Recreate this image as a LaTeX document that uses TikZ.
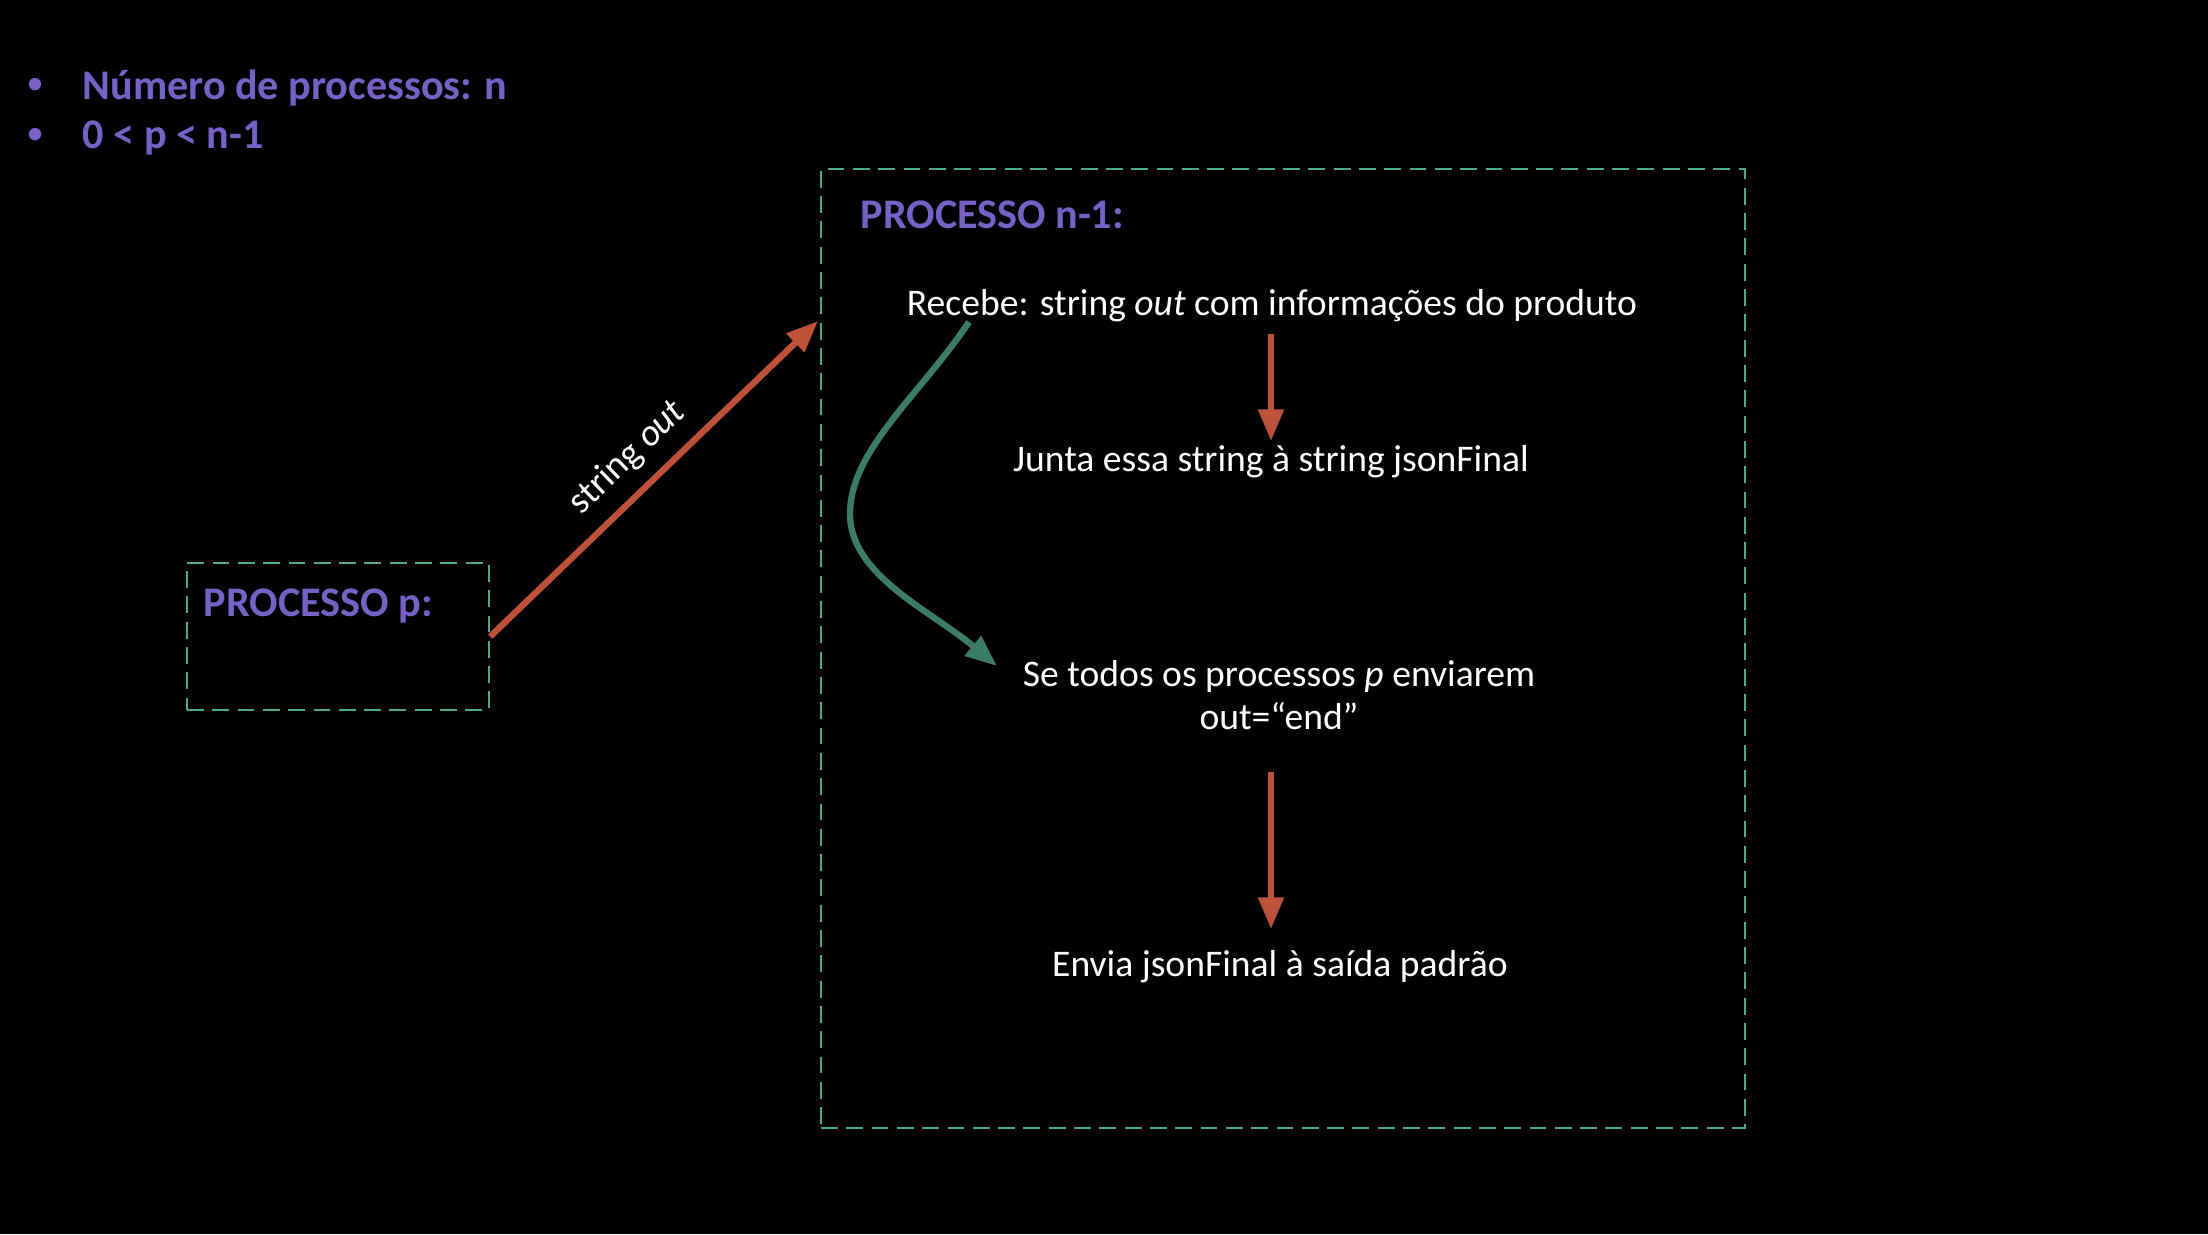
\documentclass[tikz,border=0pt]{standalone}
\usepackage{fontspec}
\setmainfont{Carlito}
\usetikzlibrary{arrows.meta}
\definecolor{purp}{RGB}{118,98,196}
\definecolor{redarr}{RGB}{190,82,56}
\definecolor{greenarr}{RGB}{58,125,100}
\definecolor{boxgreen}{RGB}{78,168,138}
\tikzset{
  procbox/.style={draw=boxgreen, line width=0.7pt, dash pattern=on 4.8pt off 2.4pt, inner sep=0pt},
  redarrow/.style={draw=redarr, line width=1.8pt, -{Triangle[length=9pt,width=7pt]}},
  greenarrow/.style={draw=greenarr, line width=1.8pt, -{Triangle[length=9pt,width=7pt]}},
  lbl/.style={text=purp, font=\fontsize{12}{14.4}\selectfont\bfseries, inner sep=0pt},
  dot/.style={text=purp, font=\fontsize{10}{12}\selectfont, inner sep=0pt},
  body/.style={text=white, font=\fontsize{10.7}{12.4}\selectfont, inner sep=0pt, align=center}
}
\begin{document}
\begin{tikzpicture}
\fill[black] (0,0) rectangle (22.08,-12.34);
\useasboundingbox (0,0) rectangle (22.08,-12.34);

% bullets
\node[dot] (d1) at (0.35,-0.86) {•};
\node[lbl, anchor=west] (b1) at (0.82,-0.88) {Número de processos: n};
\node[dot] (d2) at (0.35,-1.36) {•};
\node[lbl, anchor=west] (b2) at (0.82,-1.38) {0 < p < n-1};

% boxes
\node[procbox, minimum width=3.02cm, minimum height=1.47cm] (pbox) at (3.38,-6.365) {};
\node[procbox, minimum width=9.24cm, minimum height=9.59cm] (nbox) at (12.83,-6.485) {};

\node[lbl, anchor=west] (plbl) at (2.03,-6.06) {PROCESSO p:};
\node[lbl, anchor=west] (nlbl) at (8.60,-2.15) {PROCESSO n-1:};

% texts
\node[body] (t1) at (12.72,-3.06) {Recebe: string \textit{out} com informações do produto};
\node[body] (t2) at (12.71,-4.62) {Junta essa string à string jsonFinal};
\node[body] (t3) at (12.79,-6.95) {Se todos os processos \textit{p} enviarem\\out=“end”};
\node[body] (t4) at (12.80,-9.67) {Envia jsonFinal à saída padrão};

\coordinate (inpt) at (8.18,-3.21);
\coordinate (gstart) at (9.69,-3.22);
\coordinate (gend) at (9.97,-6.66);

% arrows
\draw[redarrow] (pbox.east) -- node[body, sloped, above=4pt, pos=0.49] {string \textit{out}} (inpt);
\draw[redarrow] (12.71,-3.34) -- (12.71,-4.41);
\draw[redarrow] (12.71,-7.72) -- (12.71,-9.29);
\draw[greenarrow] (gstart) .. controls (9.2,-3.95) and (8.50,-4.5) .. (8.50,-5.14)
  .. controls (8.50,-5.75) and (9.3,-6.1) .. (gend);
\end{tikzpicture}
\end{document}
